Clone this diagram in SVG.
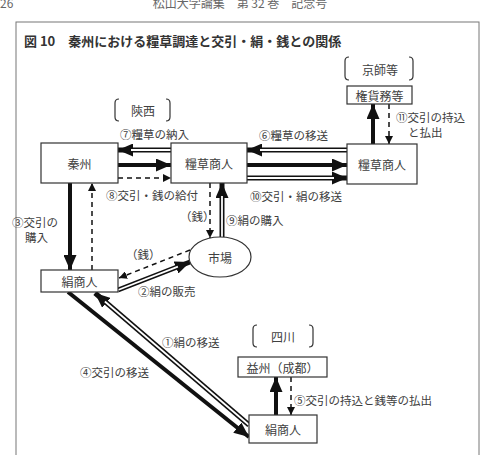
<svg xmlns="http://www.w3.org/2000/svg" width="481" height="455" viewBox="0 0 481 455">
<style>
text{font-family:"Noto Sans CJK JP","Noto Sans",sans-serif;fill:#404040;}
.n{font-size:12px;text-anchor:middle;dominant-baseline:central;}
.l{font-size:11.5px;dominant-baseline:central;}
.c{text-anchor:middle;}
.box{fill:#fff;stroke:#333;stroke-width:1.2;}
.br{fill:none;stroke:#333;stroke-width:1.2;}
.thick{stroke:#111;stroke-width:4;fill:none;}
.dash{stroke:#111;stroke-width:1.5;stroke-dasharray:5,4;fill:none;}
.dbl{stroke:#111;stroke-width:5;fill:none;}
.dblw{stroke:#fff;stroke-width:1.8;fill:none;}
</style>
<defs>
<marker id="hT" markerUnits="userSpaceOnUse" markerWidth="15" markerHeight="13" refX="15" refY="6.5" orient="auto"><path d="M0,0 L15,6.5 L0,13 z" fill="#111"/></marker>
<marker id="hD" markerUnits="userSpaceOnUse" markerWidth="8" markerHeight="8" refX="8" refY="4" orient="auto"><path d="M0,0 L8,4 L0,8 z" fill="#111"/></marker>
</defs>
<rect x="0" y="0" width="481" height="455" fill="#fff"/>
<text x="0" y="8" style="font-size:12px;fill:#666">26</text>
<text x="240" y="8" class="c" style="font-size:12px;fill:#666">松山大学論集　第 32 巻　記念号</text>
<rect x="16" y="22" width="463" height="445" fill="none" stroke="#777" stroke-width="1"/>
<text x="24" y="46" style="font-size:13px;font-weight:bold;fill:#333">図 10　秦州における糧草調達と交引・絹・銭との関係</text>

<g id="brackets">
<path class="br" d="M349,57 Q345,57 345,61 L345,76 Q345,80 349,80 M409,57 Q413,57 413,61 L413,76 Q413,80 409,80"/>
<path class="br" d="M119,99 Q115,99 115,103 L115,117 Q115,121 119,121 M166,99 Q170,99 170,103 L170,117 Q170,121 166,121"/>
<path class="br" d="M257,325 Q253,325 253,329 L253,343 Q253,347 257,347 M309,325 Q313,325 313,329 L313,343 Q313,347 309,347"/>
</g>

<g id="connectors">
<line class="dbl" x1="171" y1="150" x2="118" y2="150" marker-end="url(#hT)"/>
<line class="dblw" x1="171" y1="150" x2="131" y2="150"/>
<line class="thick" x1="118" y1="165" x2="171" y2="165" marker-end="url(#hT)"/>
<line class="dash" x1="118" y1="178" x2="171" y2="178" marker-end="url(#hD)"/>
<line class="dbl" x1="347" y1="150" x2="247" y2="150" marker-end="url(#hT)"/>
<line class="dblw" x1="347" y1="150" x2="260" y2="150"/>
<line class="thick" x1="247" y1="165" x2="347" y2="165" marker-end="url(#hT)"/>
<line class="dbl" x1="247" y1="178" x2="347" y2="178" marker-end="url(#hT)"/>
<line class="dblw" x1="247" y1="178" x2="334" y2="178"/>
<line class="thick" x1="373" y1="144" x2="373" y2="104" marker-end="url(#hT)"/>
<line class="dash" x1="389" y1="104" x2="389" y2="144" marker-end="url(#hD)"/>
<line class="thick" x1="70" y1="183" x2="70" y2="270" marker-end="url(#hT)"/>
<line class="dash" x1="92" y1="270" x2="92" y2="183" marker-end="url(#hD)"/>
<line class="dash" x1="210" y1="183" x2="210" y2="238" marker-end="url(#hD)"/>
<line class="dbl" x1="222" y1="237" x2="222" y2="183" marker-end="url(#hT)"/>
<line class="dblw" x1="222" y1="237" x2="222" y2="196"/>
<line class="dash" x1="190" y1="250" x2="119" y2="278" marker-end="url(#hD)"/>
<line class="dbl" x1="118" y1="290" x2="190" y2="262" marker-end="url(#hT)"/>
<line class="dblw" x1="118" y1="290" x2="177.9" y2="266.7"/>
<line class="thick" x1="68" y1="292" x2="249" y2="437" marker-end="url(#hT)"/>
<line class="dbl" x1="249" y1="425" x2="95" y2="293" marker-end="url(#hT)"/>
<line class="dblw" x1="249" y1="425" x2="104.9" y2="301.5"/>
<line class="thick" x1="276" y1="415" x2="276" y2="377" marker-end="url(#hT)"/>
<line class="dash" x1="291" y1="377" x2="291" y2="415" marker-end="url(#hD)"/>
</g>

<g id="n-kyoshi"><text class="n" x="380" y="69">京師等</text></g>
<g id="n-senzai"><text class="n" x="143" y="110">陝西</text></g>
<g id="n-shisen"><text class="n" x="283" y="336">四川</text></g>
<g id="n-kenka"><rect class="box" x="347" y="86" width="65" height="18"/><text class="n" x="379.5" y="95">権貨務等</text></g>
<g id="n-shinshu"><rect class="box" x="41" y="143" width="77" height="40"/><text class="n" x="79.5" y="163">秦州</text></g>
<g id="n-ryoso1"><rect class="box" x="171" y="143" width="76" height="40"/><text class="n" x="209" y="163">糧草商人</text></g>
<g id="n-ryoso2"><rect class="box" x="347" y="144" width="70" height="40"/><text class="n" x="382" y="164">糧草商人</text></g>
<g id="n-ichiba"><ellipse cx="220" cy="257" rx="31" ry="20" fill="#fff" stroke="#333" stroke-width="1.2"/><text class="n" x="220" y="257">市場</text></g>
<g id="n-kensho1"><rect class="box" x="41" y="270" width="77" height="22"/><text class="n" x="79.5" y="281">絹商人</text></g>
<g id="n-ekishu"><rect class="box" x="238" y="357" width="89" height="20"/><text class="n" x="282.5" y="367">益州（成都）</text></g>
<g id="n-kensho2"><rect class="box" x="249" y="415" width="68" height="28"/><text class="n" x="283" y="429">絹商人</text></g>

<g id="labels">
<text class="l" x="120" y="134">⑦糧草の納入</text>
<text class="l" x="259" y="135">⑥糧草の移送</text>
<text class="l" x="396" y="117">⑪交引の持込</text>
<text class="l" x="408" y="132">と払出</text>
<text class="l" x="106" y="195">⑧交引・銭の給付</text>
<text class="l" x="250" y="196">⑩交引・絹の移送</text>
<text class="l" x="180" y="216">（銭）</text>
<text class="l" x="226" y="220">⑨絹の購入</text>
<text class="l" x="126" y="254">（銭）</text>
<text class="l" x="138" y="291">②絹の販売</text>
<text class="l" x="12" y="222">③交引の</text>
<text class="l" x="25" y="237">購入</text>
<text class="l" x="162" y="342">①絹の移送</text>
<text class="l" x="80" y="372">④交引の移送</text>
<text class="l" x="294" y="400">⑤交引の持込と銭等の払出</text>
</g>
</svg>
